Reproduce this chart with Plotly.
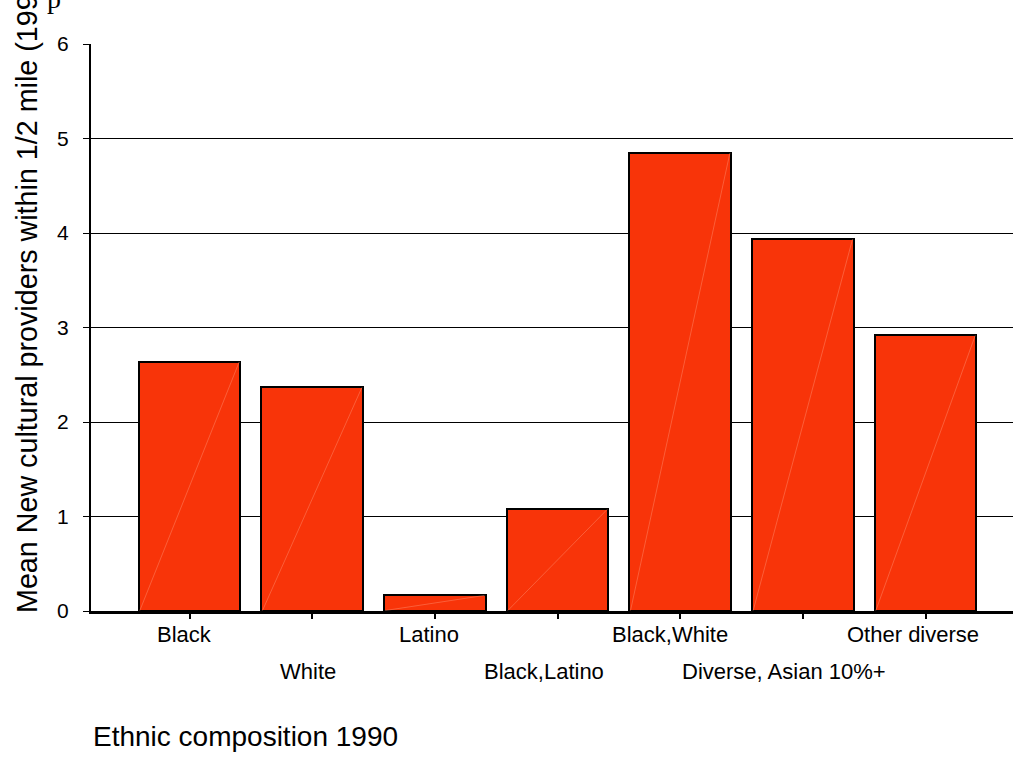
import plotly.graph_objects as go

# Ethnic composition groups (1990) and mean number of new cultural providers
categories = ["Black", "White", "Latino", "Black,Latino", "Black,White",
              "Diverse, Asian 10%+", "Other diverse"]
mean_providers = [2.64, 2.37, 0.17, 1.08, 4.85, 3.94, 2.92]
y_ticks = [0, 1, 2, 3, 4, 5, 6]

FONT = "Liberation Sans, Arial, sans-serif"
BAR_COLOR = "#F83409"
BAR_WIDTH = 0.83

# small horizontal nudges for the staggered category labels
label_nudge = [-5, -4, -6, -14, -10, -19, -13]

xs = list(range(len(categories)))

fig = go.Figure()
fig.add_trace(go.Bar(
    x=xs, y=mean_providers, width=BAR_WIDTH,
    marker=dict(color=BAR_COLOR, line=dict(color="black", width=2)),
    hoverinfo="skip", showlegend=False,
))

# faint diagonal sheen across each bar
for x, v in zip(xs, mean_providers):
    fig.add_trace(go.Scatter(
        x=[x - BAR_WIDTH / 2 + 0.01, x + BAR_WIDTH / 2 - 0.01], y=[0.005, v - 0.005],
        mode="lines", line=dict(color="rgba(255,150,120,0.55)", width=0.8),
        hoverinfo="skip", showlegend=False,
    ))

# staggered category labels: two rows under the axis
for i, name in enumerate(categories):
    fig.add_annotation(
        x=i, xref="x", y=0, yref="paper", yanchor="top", xanchor="center",
        text=name, showarrow=False, xshift=label_nudge[i],
        yshift=-9 if i % 2 == 0 else -46,
        font=dict(family=FONT, size=22, color="black"),
    )

# axis titles
fig.add_annotation(
    x=0, xref="paper", xanchor="left", y=0, yref="paper", yanchor="top",
    yshift=-108, text="Ethnic composition 1990", showarrow=False,
    font=dict(family=FONT, size=28, color="black"),
)
fig.add_annotation(
    x=0, xref="paper", xanchor="center", xshift=-64,
    y=0, yref="paper", yanchor="bottom", yshift=-4,
    text="Mean New cultural providers within 1/2 mile (1997)", textangle=-90,
    showarrow=False, font=dict(family=FONT, size=28.7, color="black"),
)
fig.add_annotation(
    x=0, xref="paper", xanchor="center", xshift=-37,
    y=1, yref="paper", yanchor="bottom", yshift=28,
    text="p", showarrow=False,
    font=dict(family="Liberation Serif, Times New Roman, serif", size=28, color="black"),
)

fig.update_xaxes(
    range=[-0.803, 6.713], tickvals=xs, showticklabels=False,
    showline=True, linecolor="black", linewidth=3,
    ticks="outside", ticklen=5, tickwidth=2, tickcolor="black",
    showgrid=False, zeroline=False,
)
fig.update_yaxes(
    range=[0, 6], tickvals=y_ticks, ticktext=[str(t) for t in y_ticks],
    showline=True, linecolor="black", linewidth=2,
    ticks="outside", ticklen=6, tickwidth=1, tickcolor="black",
    ticklabelstandoff=10,
    tickfont=dict(family=FONT, size=21, color="black"),
    showgrid=True, gridcolor="black", gridwidth=1, zeroline=False,
)
fig.update_layout(
    width=1013, height=757,
    margin=dict(l=91, r=0, t=44, b=146),
    plot_bgcolor="white", paper_bgcolor="white",
    bargap=0,
)

fig.write_html("out.html")
